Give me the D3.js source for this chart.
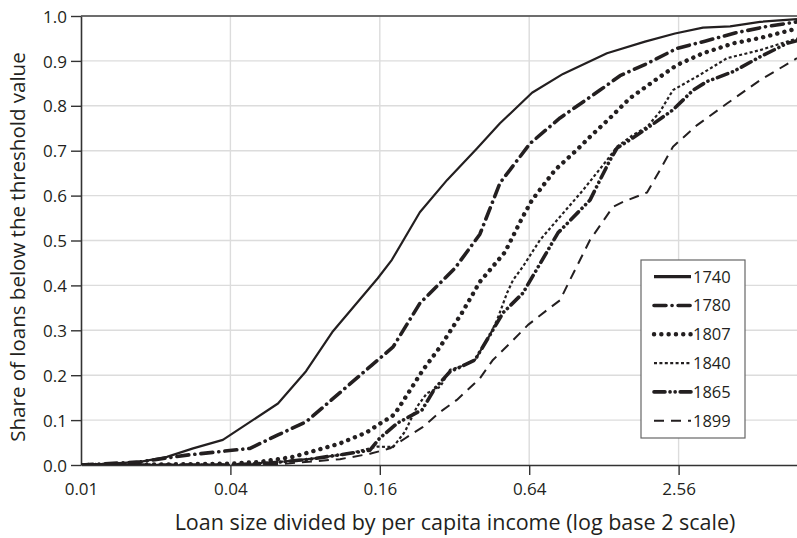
<!DOCTYPE html>
<html>
<head>
<meta charset="utf-8">
<script src="https://cdn.jsdelivr.net/npm/d3@7"></script>
<style>
  html, body { margin: 0; padding: 0; background: #fff; }
  svg { display: block; font-family: "Open Sans", "Noto Sans", sans-serif; }
</style>
</head>
<body>
<svg id="chart" width="797" height="538"></svg>
<script>
// Cumulative share of loans below each size threshold (loan size / per capita income)
const years = ["1740", "1780", "1807", "1840", "1865", "1899"];

const loans1740 = [[0.01,0],[0.0131,0.003],[0.0173,0.007],[0.0222,0.018],[0.0283,0.037],[0.0373,0.056],
  [0.0622,0.137],[0.0807,0.209],[0.1036,0.298],[0.157,0.416],[0.179,0.457],[0.232,0.563],[0.299,0.635],
  [0.394,0.705],[0.488,0.761],[0.657,0.829],[0.876,0.871],[1.317,0.917],[1.874,0.943],[2.476,0.961],
  [3.21,0.974],[4.13,0.977],[5.45,0.987],[7.68,0.993]];

const loans1780 = [[0.01,0],[0.0173,0.007],[0.0267,0.022],[0.048,0.037],[0.0622,0.067],[0.0807,0.096],
  [0.149,0.223],[0.181,0.263],[0.232,0.360],[0.322,0.439],[0.405,0.514],[0.488,0.628],[0.645,0.716],
  [0.852,0.773],[1.235,0.835],[1.487,0.867],[1.927,0.895],[2.523,0.928],[3.27,0.944],[4.32,0.962],
  [5.71,0.976],[7.68,0.987]];

const loans1807 = [[0.01,0],[0.02,0.001],[0.04,0.003],[0.0526,0.007],[0.0715,0.018],[0.1106,0.048],
  [0.142,0.073],[0.163,0.095],[0.179,0.108],[0.188,0.122],[0.206,0.156],[0.239,0.212],[0.280,0.263],
  [0.343,0.339],[0.405,0.408],[0.511,0.474],[0.599,0.550],[0.657,0.590],[0.813,0.657],[0.997,0.702],
  [1.125,0.731],[1.355,0.773],[1.63,0.817],[2.095,0.860],[2.523,0.891],[3.21,0.917],[4.24,0.939],
  [5.45,0.951],[7.68,0.972]];

const loans1840 = [[0.01,0],[0.04,0],[0.0634,0.007],[0.0918,0.016],[0.1213,0.026],[0.156,0.041],
  [0.181,0.040],[0.202,0.074],[0.226,0.130],[0.248,0.160],[0.280,0.174],[0.307,0.212],[0.337,0.219],
  [0.387,0.234],[0.445,0.290],[0.475,0.323],[0.521,0.383],[0.551,0.412],[0.604,0.442],[0.707,0.501],
  [0.852,0.553],[1.054,0.612],[1.317,0.679],[1.446,0.709],[1.678,0.735],[1.91,0.753],[2.154,0.787],
  [2.43,0.835],[3.12,0.869],[4.01,0.906],[5.45,0.924],[7.68,0.950]];

const loans1865 = [[0.01,0],[0.04,0],[0.0562,0.004],[0.0837,0.013],[0.1213,0.026],[0.146,0.033],
  [0.160,0.060],[0.188,0.093],[0.237,0.123],[0.267,0.171],[0.307,0.208],[0.337,0.218],[0.387,0.234],
  [0.445,0.290],[0.502,0.339],[0.604,0.383],[0.836,0.517],[1.125,0.590],[1.235,0.635],[1.355,0.679],
  [1.446,0.706],[1.587,0.720],[1.91,0.750],[2.43,0.791],[2.93,0.835],[3.33,0.854],[4.24,0.876],
  [5.45,0.909],[7.00,0.939],[7.68,0.945]];

const loans1899 = [[0.01,0],[0.0634,0.002],[0.1106,0.013],[0.146,0.025],[0.176,0.037],[0.202,0.059],
  [0.239,0.085],[0.280,0.118],[0.327,0.145],[0.405,0.193],[0.457,0.234],[0.551,0.278],[0.633,0.312],
  [0.755,0.345],[0.852,0.367],[0.934,0.412],[1.125,0.501],[1.393,0.575],[1.53,0.586],[1.91,0.607],
  [2.154,0.657],[2.43,0.709],[3.04,0.757],[4.01,0.805],[5.45,0.857],[7.68,0.906]];

const seriesValues = [loans1740, loans1780, loans1807, loans1840, loans1865, loans1899];

const xTicks = [0.01, 0.04, 0.16, 0.64, 2.56];
const xTickLabels = ["0.01", "0.04", "0.16", "0.64", "2.56"];
const yTicks = [0, 0.1, 0.2, 0.3, 0.4, 0.5, 0.6, 0.7, 0.8, 0.9, 1.0];
const yTickLabels = ["0.0", "0.1", "0.2", "0.3", "0.4", "0.5", "0.6", "0.7", "0.8", "0.9", "1.0"];

const xTitle = "Loan size divided by per capita income (log base 2 scale)";
const yTitle = "Share of loans below the threshold value";

// Line appearance per year
const lineStyles = {
  "1740": { width: 2.2, dash: null, cap: "butt" },
  "1780": { width: 3.6, dash: "12,6,0.1,6", cap: "round" },
  "1807": { width: 4.4, dash: "0.1,7.2", cap: "round" },
  "1840": { width: 2.2, dash: "3,2.4", cap: "butt" },
  "1865": { width: 3.6, dash: "11,5,0.1,5,0.1,5", cap: "round" },
  "1899": { width: 2.0, dash: "10,7", cap: "butt" }
};

(function draw() {
  const ink = "#231f20";
  const svg = d3.select("#chart");
  const plotLeft = 81, plotRight = 797, plotTop = 16, plotBottom = 465;

  const x = d3.scaleLog().base(2).domain([0.01, 7.68]).range([plotLeft, plotRight]);
  const y = d3.scaleLinear().domain([0, 1]).range([plotBottom, plotTop]);

  // Grid
  const grid = svg.append("g");
  grid.selectAll("line.h").data(yTicks.slice(1)).join("line").attr("class", "h")
    .attr("x1", plotLeft).attr("x2", plotRight)
    .attr("y1", d => y(d)).attr("y2", d => y(d))
    .attr("stroke", "#dcdcdc").attr("stroke-width", 1.4);
  grid.selectAll("line.v").data(xTicks.slice(1)).join("line").attr("class", "v")
    .attr("x1", d => x(d)).attr("x2", d => x(d))
    .attr("y1", plotTop).attr("y2", plotBottom)
    .attr("stroke", "#dcdcdc").attr("stroke-width", 1.4);

  // Axes
  const xAxis = d3.axisBottom(x).tickValues(xTicks)
    .tickFormat((d, i) => xTickLabels[i]).tickSize(10).tickSizeOuter(0).tickPadding(8);
  const gx = svg.append("g").attr("transform", `translate(0,${plotBottom})`).call(xAxis);

  const yAxis = d3.axisLeft(y).tickValues(yTicks)
    .tickFormat((d, i) => yTickLabels[i]).tickSize(10).tickSizeOuter(0).tickPadding(4);
  const gy = svg.append("g").attr("transform", `translate(${plotLeft},0)`).call(yAxis);

  [gx, gy].forEach(g => {
    g.select(".domain").attr("stroke", "#333").attr("stroke-width", 1.6);
    g.selectAll(".tick line").attr("stroke", "#333").attr("stroke-width", 1.4);
    g.selectAll(".tick text").attr("fill", ink).attr("font-size", 17)
      .attr("font-family", "'Open Sans', 'Noto Sans', sans-serif");
  });
  gy.selectAll(".tick text").attr("dy", "0.36em");
  gx.selectAll(".tick").filter(d => d === 0.01).select("line").remove();

  // Top frame line
  svg.append("line").attr("x1", plotLeft).attr("x2", plotRight).attr("y1", plotTop).attr("y2", plotTop)
    .attr("stroke", "#444").attr("stroke-width", 1.6);

  // Series
  svg.append("clipPath").attr("id", "plot-clip").append("rect")
    .attr("x", plotLeft).attr("y", plotTop - 4)
    .attr("width", plotRight - plotLeft).attr("height", plotBottom - plotTop + 4);

  const line = d3.line().x(d => x(d[0])).y(d => y(d[1]));
  const lines = svg.append("g").attr("clip-path", "url(#plot-clip)");
  years.slice().reverse().forEach(yr => {
    const i = years.indexOf(yr);
    const st = lineStyles[yr];
    lines.append("path").datum(seriesValues[i])
      .attr("d", line)
      .attr("fill", "none")
      .attr("stroke", ink)
      .attr("stroke-width", st.width)
      .attr("stroke-linecap", st.cap)
      .attr("stroke-linejoin", "round")
      .attr("stroke-dasharray", st.dash);
  });

  // Axis titles
  svg.append("text").attr("x", 455).attr("y", 530).attr("text-anchor", "middle")
    .attr("font-size", 21.5).attr("fill", ink).text(xTitle);
  svg.append("text").attr("transform", `translate(25,247) rotate(-90)`)
    .attr("text-anchor", "middle").attr("font-size", 20.5).attr("fill", ink).text(yTitle);

  // Legend
  const legend = svg.append("g").attr("transform", "translate(641,260)");
  legend.append("rect").attr("width", 104).attr("height", 178)
    .attr("fill", "#fff").attr("stroke", "#666").attr("stroke-width", 1.2);
  years.forEach((yr, i) => {
    const st = lineStyles[yr];
    const ly = 16.7 + i * 28.8;
    legend.append("line").attr("x1", 13).attr("x2", 50).attr("y1", ly).attr("y2", ly)
      .attr("stroke", ink).attr("stroke-width", yr === "1740" ? 3.2 : st.width)
      .attr("stroke-linecap", st.cap).attr("stroke-dasharray", st.dash);
    legend.append("text").attr("x", 52).attr("y", ly).attr("dy", "0.36em")
      .attr("font-size", 16.5).attr("fill", ink).text(yr);
  });
})();
</script>
</body>
</html>
